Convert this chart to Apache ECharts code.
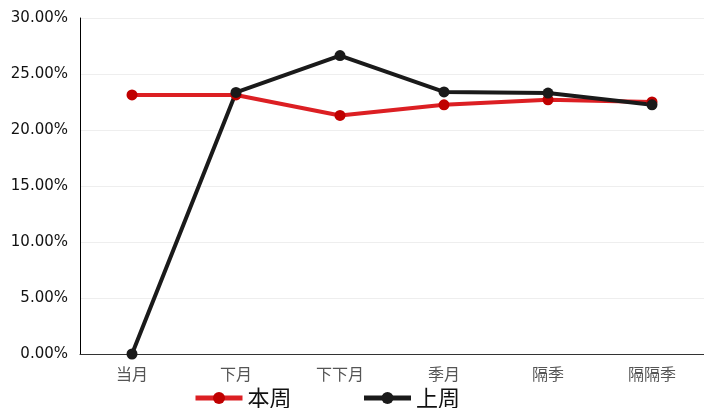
<!DOCTYPE html>
<html><head><meta charset="utf-8">
<script src="https://cdn.jsdelivr.net/npm/echarts@6/dist/echarts.min.js"></script>
<style>html,body{margin:0;padding:0;background:#fff}#c{width:704px;height:408px}</style>
</head><body><div id="c"></div>
<script>
const categories = ['当月','下月','下下月','季月','隔季','隔隔季'];
const thisWeek = [23.13, 23.13, 21.3, 22.25, 22.7, 22.5];
const lastWeek = [0, 23.35, 26.65, 23.4, 23.3, 22.25];
const seriesNames = ['本周','上周'];
const chart = echarts.init(document.getElementById('c'));
chart.setOption({
  animation:false,
  grid:{left:80,right:0,top:18,bottom:54},
  legend:{bottom:-6,left:188,itemWidth:47,itemHeight:15,itemGap:70,
    lineStyle:{width:5},
    textStyle:{fontSize:22,color:'#111',fontFamily:'Noto Sans CJK SC'},
    data:seriesNames},
  xAxis:{type:'category',data:categories,boundaryGap:true,
    axisLine:{lineStyle:{color:'#333',width:1}},
    axisTick:{lineStyle:{color:'#333'},length:6},
    axisLabel:{color:'#555',fontSize:16,margin:12,fontFamily:'Noto Sans CJK SC'}},
  yAxis:{type:'value',min:0,max:30,interval:5,
    axisLine:{show:true,lineStyle:{color:'#000'}},
    axisTick:{show:false},
    splitLine:{lineStyle:{color:'#eee'}},
    axisLabel:{color:'#111',fontSize:15,margin:12,fontFamily:'DejaVu Sans',formatter:v=>v.toFixed(2)+'%'}},
  series:[
    {name:seriesNames[0],type:'line',data:thisWeek,symbol:'circle',symbolSize:11,
      lineStyle:{width:4,color:'#dc1f23'},itemStyle:{color:'#c00000'}},
    {name:seriesNames[1],type:'line',data:lastWeek,symbol:'circle',symbolSize:11,
      lineStyle:{width:4,color:'#1a1a1a'},itemStyle:{color:'#1a1a1a'}}
  ]
});
</script></body></html>
